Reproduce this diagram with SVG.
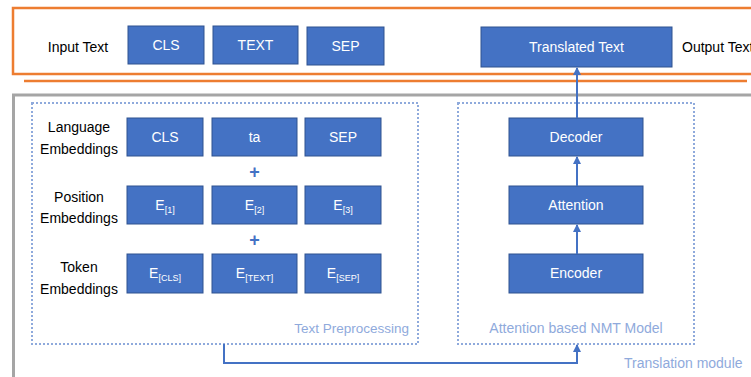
<svg xmlns="http://www.w3.org/2000/svg" width="751" height="377" viewBox="0 0 751 377">
<style>
text{font-family:"Liberation Sans",Arial,sans-serif;font-size:14px}
.box{fill:#4472C4;stroke:#2F528F;stroke-width:1}
.bt{fill:#ffffff;text-anchor:middle}
.lbl{fill:#000000;text-anchor:middle}
.sub{font-size:9px}
.dot{fill:none;stroke:#8FAADC;stroke-width:2;stroke-dasharray:2 2}
.cap{fill:#8FAADC}
.con{fill:none;stroke:#4472C4;stroke-width:2}
</style>
<defs>
<marker id="ah" markerWidth="8" markerHeight="8" refX="7" refY="4" orient="auto" markerUnits="userSpaceOnUse">
<path d="M0,0 L8,4 L0,8 Z" fill="#4472C4"/>
</marker>
</defs>
<rect width="751" height="377" fill="#ffffff"/>
<!-- frames -->
<g id="io-frame">
<rect x="13" y="8" width="750" height="66" fill="none" stroke="#ED7D31" stroke-width="2.5"/>
<line x1="24" y1="81" x2="747" y2="81" stroke="#ED7D31" stroke-width="2.5"/>
</g>
<g id="translation-module">
<rect x="13.5" y="95" width="760" height="300" fill="none" stroke="#A5A5A5" stroke-width="3"/>
<text x="624" y="368" class="cap">Translation module</text>
</g>
<g id="text-preprocessing">
<rect x="32" y="103" width="386" height="241" class="dot"/>
<text x="409" y="333" class="cap" text-anchor="end" font-size="13.5" style="font-size:13.5px">Text Preprocessing</text>
</g>
<g id="nmt-model">
<rect x="458" y="103" width="236" height="241" class="dot"/>
<text x="576" y="333" class="cap" text-anchor="middle">Attention based NMT Model</text>
</g>
<!-- top row -->
<g id="input-label"><text x="78" y="52" class="lbl">Input Text</text></g>
<g id="in-cls"><rect x="128" y="26" width="76" height="38" class="box"/><text x="166" y="50" class="bt">CLS</text></g>
<g id="in-text"><rect x="213" y="26" width="85" height="38" class="box"/><text x="255.5" y="50" class="bt">TEXT</text></g>
<g id="in-sep"><rect x="307" y="27" width="77" height="38" class="box"/><text x="345.5" y="51" class="bt">SEP</text></g>
<g id="translated"><rect x="481" y="27" width="191" height="40" class="box"/><text x="576.5" y="52" class="bt">Translated Text</text></g>
<g id="output-label"><text x="682" y="52" fill="#000000">Output Text</text></g>
<!-- embedding labels -->
<g id="lang-label"><text x="79" y="132" class="lbl">Language</text><text x="79" y="154" class="lbl">Embeddings</text></g>
<g id="pos-label"><text x="79" y="202" class="lbl">Position</text><text x="79" y="223" class="lbl">Embeddings</text></g>
<g id="tok-label"><text x="79" y="272" class="lbl">Token</text><text x="79" y="294" class="lbl">Embeddings</text></g>
<!-- language row -->
<g id="lang-cls"><rect x="127" y="118" width="76" height="38" class="box"/><text x="165" y="142" class="bt">CLS</text></g>
<g id="lang-ta"><rect x="212" y="118" width="85" height="38" class="box"/><text x="254.5" y="142" class="bt">ta</text></g>
<g id="lang-sep"><rect x="305" y="118" width="76" height="38" class="box"/><text x="343" y="142" class="bt">SEP</text></g>
<g id="plus1"><text x="254.5" y="178" class="bt" style="fill:#4472C4;font-size:18px;font-weight:bold">+</text></g>
<!-- position row -->
<g id="pos-1"><rect x="127" y="186" width="76" height="38" class="box"/><text x="165" y="210" class="bt">E<tspan class="sub" dy="3">[1]</tspan></text></g>
<g id="pos-2"><rect x="212" y="186" width="85" height="38" class="box"/><text x="254.5" y="210" class="bt">E<tspan class="sub" dy="3">[2]</tspan></text></g>
<g id="pos-3"><rect x="305" y="186" width="76" height="38" class="box"/><text x="343" y="210" class="bt">E<tspan class="sub" dy="3">[3]</tspan></text></g>
<g id="plus2"><text x="254.5" y="246" class="bt" style="fill:#4472C4;font-size:18px;font-weight:bold">+</text></g>
<!-- token row -->
<g id="tok-cls"><rect x="127" y="254" width="76" height="39" class="box"/><text x="165" y="278" class="bt">E<tspan class="sub" dy="3">[CLS]</tspan></text></g>
<g id="tok-text"><rect x="212" y="254" width="85" height="39" class="box"/><text x="254.5" y="278" class="bt">E<tspan class="sub" dy="3">[TEXT]</tspan></text></g>
<g id="tok-sep"><rect x="305" y="254" width="76" height="39" class="box"/><text x="343" y="278" class="bt">E<tspan class="sub" dy="3">[SEP]</tspan></text></g>
<!-- NMT blocks -->
<g id="decoder"><rect x="509" y="118" width="134" height="38" class="box"/><text x="576" y="142" class="bt">Decoder</text></g>
<g id="attention"><rect x="509" y="186" width="134" height="38" class="box"/><text x="576" y="210" class="bt">Attention</text></g>
<g id="encoder"><rect x="509" y="254" width="134" height="39" class="box"/><text x="576" y="278" class="bt">Encoder</text></g>
<!-- connectors -->
<g id="connectors">
<line x1="577" y1="118" x2="577" y2="68" class="con" marker-end="url(#ah)"/>
<line x1="577" y1="186" x2="577" y2="157" class="con" marker-end="url(#ah)"/>
<line x1="577" y1="254" x2="577" y2="225" class="con" marker-end="url(#ah)"/>
<polyline points="224,344 224,363 577,363 577,345" class="con" marker-end="url(#ah)"/>
</g>
</svg>
